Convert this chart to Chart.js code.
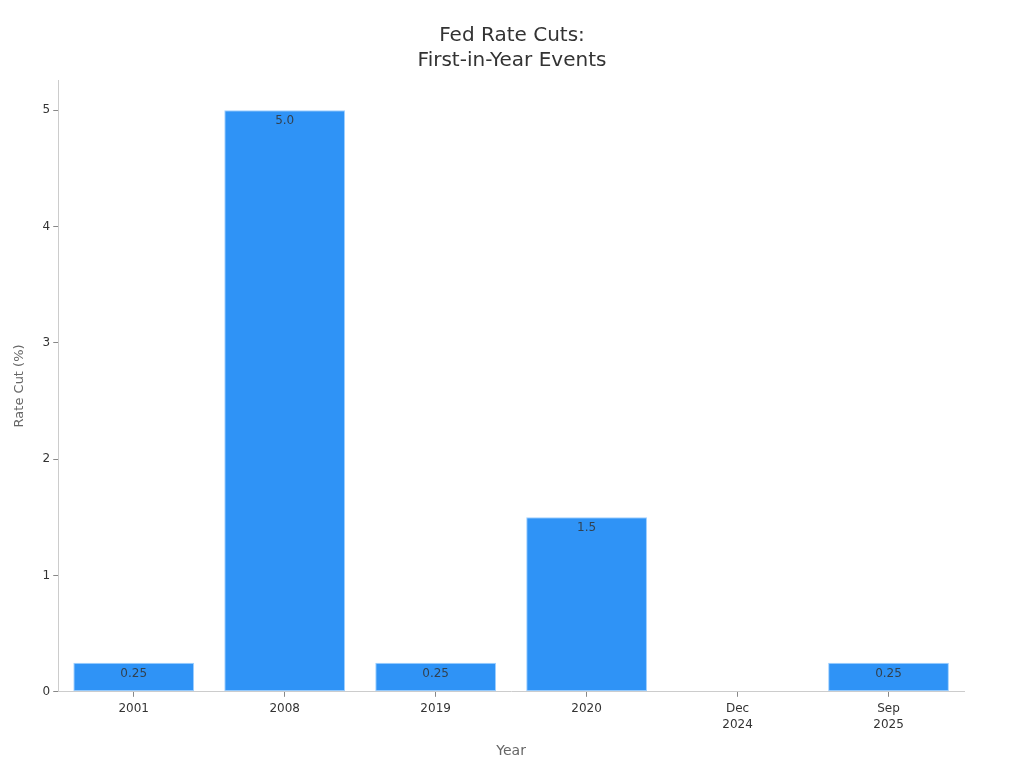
<!DOCTYPE html>
<html>
<head>
<meta charset="utf-8">
<script src="https://cdn.jsdelivr.net/npm/chart.js@4/dist/chart.umd.min.js"></script>
<style>
  html, body { margin: 0; padding: 0; background: #fff; }
  #wrap { width: 1024px; height: 768px; position: relative; }
</style>
</head>
<body>
<div id="wrap"><canvas id="rateChart"></canvas></div>
<script>
// Chart data
const yearLabels = [['2001'], ['2008'], ['2019'], ['2020'], ['Dec', '2024'], ['Sep', '2025']];
const rateCuts = [0.25, 5.0, 0.25, 1.5, null, 0.25];
const cutLabels = ['0.25', '5.0', '0.25', '1.5', '', '0.25'];
const yTickValues = [0, 1, 2, 3, 4, 5];

// Draw value text just inside the top of each bar
const barValuePlugin = {
  id: 'barValues',
  afterDatasetsDraw(chart) {
    const ctx = chart.ctx;
    const meta = chart.getDatasetMeta(0);
    ctx.save();
    ctx.font = '12px "DejaVu Sans"';
    ctx.fillStyle = 'rgba(51, 51, 51, 0.85)';
    ctx.textAlign = 'center';
    ctx.textBaseline = 'middle';
    meta.data.forEach((bar, i) => {
      if (rateCuts[i] == null) return;
      ctx.fillText(cutLabels[i], bar.x, bar.y + 11);
    });
    ctx.restore();
  }
};

new Chart(document.getElementById('rateChart'), {
  type: 'bar',
  data: {
    labels: yearLabels,
    datasets: [{
      label: 'Rate Cut (%)',
      data: rateCuts,
      backgroundColor: '#2f93f6',
      borderColor: '#9fd0ff',
      borderWidth: 1,
      borderSkipped: false,
      categoryPercentage: 1.0,
      barPercentage: 0.8
    }]
  },
  options: {
    responsive: true,
    maintainAspectRatio: false,
    animation: false,
    layout: { padding: { top: 10, right: 8, bottom: 4, left: 8 } },
    plugins: {
      legend: { display: false },
      tooltip: { enabled: false },
      title: {
        display: true,
        text: ['Fed Rate Cuts:', 'First-in-Year Events'],
        color: '#333',
        font: { family: 'DejaVu Sans', size: 20, weight: 'normal', lineHeight: 1.25 },
        padding: { top: 13, bottom: 7 }
      }
    },
    scales: {
      x: {
        grid: { display: true, offset: false, drawOnChartArea: false, drawTicks: true, tickLength: 5, tickColor: '#888' },
        border: { display: true, color: '#ccc', width: 1 },
        ticks: {
          color: '#333',
          font: { family: 'DejaVu Sans', size: 12, lineHeight: 1.35 },
          padding: 4
        },
        title: {
          display: true,
          text: 'Year',
          color: '#666',
          font: { family: 'DejaVu Sans', size: 14 },
          padding: { top: 6 }
        }
      },
      y: {
        min: 0,
        max: 5.26,
        afterBuildTicks: (axis) => {
          axis.ticks = yTickValues.map(v => ({ value: v }));
        },
        grid: { display: true, drawOnChartArea: false, drawTicks: true, tickLength: 5, tickColor: '#888' },
        border: { display: true, color: '#ccc', width: 1 },
        ticks: {
          color: '#333',
          font: { family: 'DejaVu Sans', size: 12 },
          padding: 3
        },
        title: {
          display: true,
          text: 'Rate Cut (%)',
          color: '#666',
          font: { family: 'DejaVu Sans', size: 13 },
          padding: { bottom: 12 }
        }
      },
      // empty right-hand spacer so the plot ends short of the canvas edge
      yRight: {
        position: 'right',
        display: true,
        grid: { display: false },
        border: { display: false },
        ticks: { display: false },
        afterFit: (axis) => { axis.width = 52; }
      }
    }
  },
  plugins: [barValuePlugin]
});
</script>
</body>
</html>
